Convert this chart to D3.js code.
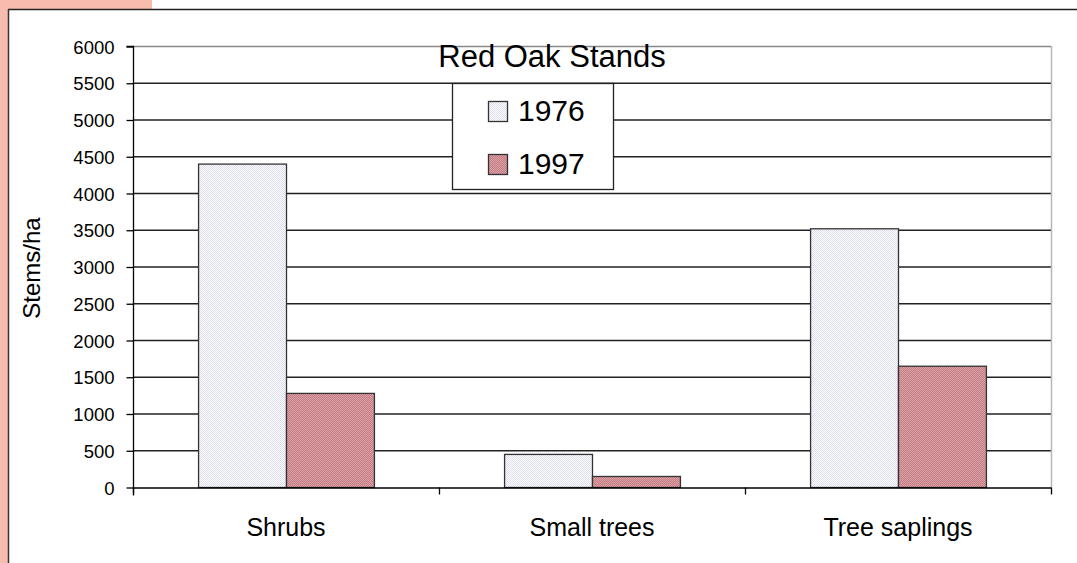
<!DOCTYPE html>
<html><head><meta charset="utf-8">
<script src="https://cdn.jsdelivr.net/npm/d3@7"></script>
<style>html,body{margin:0;padding:0;background:#fff;overflow:hidden}svg{display:block}text{font-family:"Liberation Sans",Arial,sans-serif}</style>
</head><body>
<script>
const categories = ["Shrubs", "Small trees", "Tree saplings"];
const seriesNames = ["1976", "1997"];
const values1976 = [4400, 450, 3520];
const values1997 = [1280, 150, 1650];
const yTicks = [0, 500, 1000, 1500, 2000, 2500, 3000, 3500, 4000, 4500, 5000, 5500, 6000];
const title = "Red Oak Stands";
const yLabel = "Stems/ha";

const W = 1077, H = 563;
const svg = d3.select("body").append("svg").attr("width", W).attr("height", H);
const defs = svg.append("defs");
function pat(id, a, b) {
  const p = defs.append("pattern").attr("id", id).attr("width", 2).attr("height", 2).attr("patternUnits", "userSpaceOnUse");
  p.append("rect").attr("width", 2).attr("height", 2).attr("fill", a);
  p.append("rect").attr("width", 1).attr("height", 1).attr("fill", b);
  p.append("rect").attr("x", 1).attr("y", 1).attr("width", 1).attr("height", 1).attr("fill", b);
}
pat("p1976", "#ffffff", "#dcdcf0");
pat("p1997", "#c47b82", "#dba3a8");
const fills = ["url(#p1976)", "url(#p1997)"];

// background / frame
svg.append("rect").attr("x", 0).attr("y", 0).attr("width", 152).attr("height", 10).attr("fill", "#f8bcae");
svg.append("rect").attr("x", 0).attr("y", 0).attr("width", 8).attr("height", H).attr("fill", "#f8bcae");
svg.append("line").attr("x1", 8).attr("x2", W).attr("y1", 9.5).attr("y2", 9.5).attr("stroke", "#222").attr("stroke-width", 1.5);
svg.append("line").attr("x1", 8.5).attr("x2", 8.5).attr("y1", 9).attr("y2", H).attr("stroke", "#333").attr("stroke-width", 1.5);

const x0 = 133, x1 = 1051, yTop = 46, yBot = 487;
const y = d3.scaleLinear().domain([0, 6000]).range([yBot, yTop]);
const x = d3.scaleBand().domain(categories).range([x0, x1]).paddingInner(0).paddingOuter(0);
const xs = d3.scaleBand().domain(seriesNames).range([0, x.bandwidth()]).paddingInner(0).paddingOuter(0.74);

// gridlines
svg.append("g").selectAll("line").data(yTicks.filter(d => d > 0)).join("line")
  .attr("x1", x0).attr("x2", x1).attr("y1", d => y(d) + 0.5).attr("y2", d => y(d) + 0.5)
  .attr("stroke", d => d === 6000 ? "#888" : "#222").attr("stroke-width", 1.3);
// right border
svg.append("line").attr("x1", x1 + 0.5).attr("x2", x1 + 0.5).attr("y1", yTop).attr("y2", yBot)
  .attr("stroke", "#bbb6b2").attr("stroke-width", 1.5);

// bars
const data = categories.map((c, i) => ({ c, v: [values1976[i], values1997[i]] }));
const g = svg.append("g");
data.forEach(d => {
  d.v.forEach((v, j) => {
    g.append("rect")
      .attr("x", x(d.c) + xs(seriesNames[j]) + 0.5)
      .attr("y", y(v) + 0.5)
      .attr("width", xs.bandwidth())
      .attr("height", y(0) - y(v))
      .attr("fill", fills[j])
      .attr("stroke", "#333").attr("stroke-width", 1.3);
  });
});

// y axis
const yAxis = d3.axisLeft(y).tickValues(yTicks).tickSize(7).tickPadding(12).tickFormat(d3.format("d"));
const ya = svg.append("g").attr("transform", `translate(${x0 + 0.5},0.5)`).call(yAxis);
ya.select(".domain").attr("d", `M-7,${yTop}H0V${yBot + 8}`).attr("stroke", "#000").attr("stroke-width", 1.3);
ya.selectAll(".tick line").attr("stroke", "#000").attr("stroke-width", 1.3);
ya.selectAll(".tick text").style("font-size", "18.5px").attr("fill", "#000").attr("dy", "0.36em");

// x axis
const xAxis = d3.axisBottom(x).tickSize(0).tickPadding(31);
const xa = svg.append("g").attr("transform", `translate(0,${yBot + 0.5})`).call(xAxis);
xa.select(".domain").attr("stroke", "#000").attr("stroke-width", 1.3);
xa.selectAll(".tick text").style("font-size", "25px").attr("fill", "#000");
const bounds = [x0, x1].concat(categories.slice(1).map(c => x(c)));
xa.append("g").selectAll("line").data(bounds).join("line")
  .attr("x1", d => d + 0.5).attr("x2", d => d + 0.5).attr("y1", 0).attr("y2", 7)
  .attr("stroke", "#000").attr("stroke-width", 1.3);

// y label
svg.append("text").attr("transform", `translate(40,${268}) rotate(-90)`)
  .attr("text-anchor", "middle").style("font-size", "24px").text(yLabel);

// title
svg.append("text").attr("x", 552).attr("y", 67).attr("text-anchor", "middle").style("font-size", "31px").text(title);

// legend
const lg = svg.append("g");
lg.append("rect").attr("x", 452.5).attr("y", 83.5).attr("width", 161).attr("height", 106)
  .attr("fill", "#fff").attr("stroke", "#222").attr("stroke-width", 1.3);
seriesNames.forEach((s, i) => {
  const cy = 111 + i * 53;
  lg.append("rect").attr("x", 488.5).attr("y", cy - 9.5).attr("width", 19).attr("height", 20)
    .attr("fill", fills[i]).attr("stroke", "#333").attr("stroke-width", 1.3);
  lg.append("text").attr("x", 518).attr("y", cy + 10).style("font-size", "30px").text(s);
});
</script>
</body></html>
